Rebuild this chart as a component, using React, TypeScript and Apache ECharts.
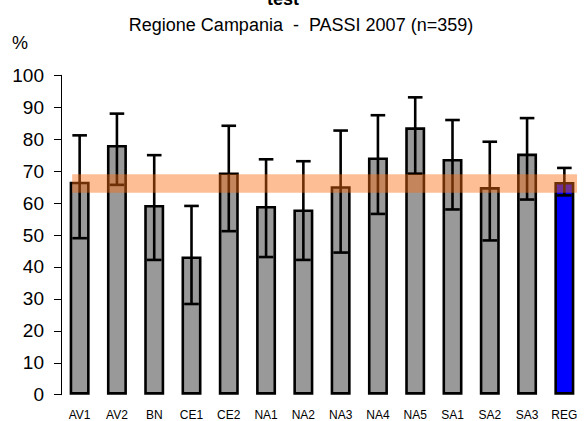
import React, { useEffect, useRef } from "react";
import * as echarts from "echarts";

const categories = ["AV1", "AV2", "BN", "CE1", "CE2", "NA1", "NA2", "NA3", "NA4", "NA5", "SA1", "SA2", "SA3", "REG"];
const values = [66.7, 78.2, 59.4, 43.3, 69.6, 59.1, 58.0, 65.3, 74.3, 83.7, 73.8, 65.0, 75.5, 66.6];
const upper = [81.2, 88.0, 75.0, 59.1, 84.2, 73.7, 73.1, 82.7, 87.5, 93.1, 86.0, 79.2, 86.6, 71.0];
const lower = [49.0, 65.7, 42.2, 28.4, 51.2, 43.1, 42.2, 44.5, 56.6, 69.2, 58.0, 48.3, 61.1, 62.4];
const bandRange = [-0.2, 13.34, 63.2, 69.0];
const yTicks = { min: 0, max: 100, interval: 10 };

export default function App() {
  const ref = useRef<HTMLDivElement>(null);
  useEffect(() => {
    const chart = echarts.init(ref.current!, undefined, { renderer: "svg" });
    const font = "Arial, 'Liberation Sans', sans-serif";
    chart.setOption({
      animation: false,
      backgroundColor: "#ffffff",
      grid: { left: 61, right: 4, top: 75.3, bottom: 26.3, containLabel: false },
      xAxis: [
        {
          type: "category",
          data: categories,
          axisLine: { show: false },
          axisTick: { show: false },
          axisLabel: { color: "#000", fontSize: 12, fontFamily: font, margin: 14, interval: 0 },
        },
        { type: "value", min: -0.5, max: 13.5, show: false },
      ],
      yAxis: {
        type: "value",
        min: yTicks.min,
        max: yTicks.max,
        interval: yTicks.interval,
        axisLine: { show: true, onZero: false, lineStyle: { color: "#000", width: 1 } },
        axisTick: { show: true, length: 7, lineStyle: { color: "#000" } },
        axisLabel: { color: "#000", fontSize: 19, fontFamily: font, margin: 17 },
        splitLine: { show: false },
      },
      graphic: [
        { type: "text", x: 283, y: 8, style: { text: "test", fontSize: 18, fontWeight: "bold", fontFamily: font, fill: "#000", align: "center", verticalAlign: "bottom" } },
        { type: "text", x: 301, y: 25, style: { text: "Regione Campania  -  PASSI 2007 (n=359)", fontSize: 18, fontFamily: font, fill: "#000", align: "center", verticalAlign: "middle" } },
        { type: "text", x: 20, y: 43, style: { text: "%", fontSize: 18, fontFamily: font, fill: "#000", align: "center", verticalAlign: "middle" } },
      ],
      series: [
        {
          type: "bar",
          data: values.map((v, i) => ({
            value: v,
            itemStyle: { color: categories[i] === "REG" ? "#0000ff" : "#999999" },
          })),
          barWidth: 20,
          itemStyle: { borderColor: "#000", borderWidth: 2.6 },
          z: 2,
        },
        {
          type: "custom",
          z: 3,
          data: categories.map((_, i) => [i, lower[i], upper[i]]),
          renderItem: (params: any, api: any) => {
            const x = api.value(0);
            const lo = api.coord([x, api.value(1)]);
            const hi = api.coord([x, api.value(2)]);
            const hw = 7.3;
            const st = { stroke: "#000", lineWidth: 2.6 };
            return {
              type: "group",
              children: [
                { type: "line", shape: { x1: hi[0], y1: hi[1], x2: lo[0], y2: lo[1] }, style: st },
                { type: "line", shape: { x1: hi[0] - hw, y1: hi[1], x2: hi[0] + hw, y2: hi[1] }, style: st },
                { type: "line", shape: { x1: lo[0] - hw, y1: lo[1], x2: lo[0] + hw, y2: lo[1] }, style: st },
              ],
            };
          },
        },
        {
          type: "custom",
          xAxisIndex: 1,
          z: 5,
          data: [bandRange],
          renderItem: (params: any, api: any) => {
            const p0 = api.coord([api.value(0), api.value(3)]);
            const p1 = api.coord([api.value(1), api.value(2)]);
            return {
              type: "rect",
              shape: { x: p0[0], y: p0[1], width: p1[0] - p0[0], height: p1[1] - p0[1] },
              style: { fill: "rgba(250,107,16,0.44)" },
            };
          },
        },
      ],
    });
    return () => chart.dispose();
  }, []);
  return <div ref={ref} style={{ width: 587, height: 421, position: "absolute", left: 0, top: 0 }} />;
}
